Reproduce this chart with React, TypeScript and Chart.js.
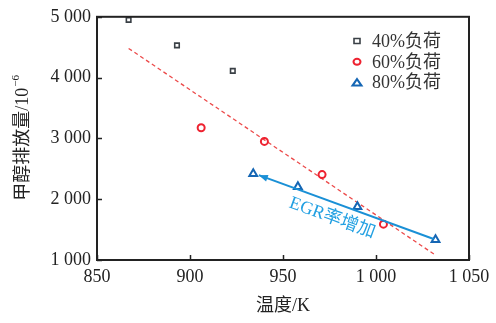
import React, { useEffect, useRef } from "react";
import { Chart, registerables } from "chart.js";
Chart.register(...registerables);

const load40T = [867, 893, 923];
const load40V = [4950, 4530, 4110];
const load60T = [906, 940, 971, 1004];
const load60V = [3175, 2950, 2405, 1590];
const load80T = [934, 958, 990, 1032];
const load80V = [2420, 2205, 1875, 1335];
const fitT = [867, 1032];
const fitV = [4480, 1080];
const arrowT = [1031, 937];
const arrowV = [1345, 2395];
const seriesNames = ["40%负荷", "60%负荷", "80%负荷"];
const xTicks = [850, 900, 950, 1000, 1050];
const yTicks = [1000, 2000, 3000, 4000, 5000];
const xTitle = "温度/K";
const yTitleMain = "甲醇排放量/10";
const yTitleSup = "−6";
const arrowLabel = "EGR率增加";

const FONT = "'Liberation Serif', 'Noto Sans CJK SC', serif";
const fmt = (v: number) => {
  const s = String(v);
  return s.length > 3 ? s.slice(0, s.length - 3) + " " + s.slice(-3) : s;
};

const pts = (xs: number[], ys: number[]) => xs.map((x, i) => ({ x, y: ys[i] }));

const C40 = "#3a4046";
const C60 = "#ee2230";
const C80 = "#1566b4";
const CARROW = "#1a90d6";

export default function App() {
  const ref = useRef<HTMLCanvasElement>(null);
  useEffect(() => {
    document.body.style.margin = "0";
    const deco = {
      id: "deco",
      beforeDatasetsDraw(chart: any) {
        const { ctx, chartArea: a, scales } = chart;
        const xs = scales.x, ys = scales.y;
        ctx.save();
        ctx.strokeStyle = "#222";
        ctx.lineWidth = 1.5;
        yTicks.forEach((v) => {
          const y = Math.round(ys.getPixelForValue(v)) + 0.5;
          ctx.beginPath();
          ctx.moveTo(a.left, y);
          ctx.lineTo(a.left + 5, y);
          ctx.stroke();
        });
        xTicks.forEach((v) => {
          const x = Math.round(xs.getPixelForValue(v)) + 0.5;
          ctx.beginPath();
          ctx.moveTo(x, a.bottom);
          ctx.lineTo(x, a.bottom - 5);
          ctx.stroke();
        });
        ctx.restore();
      },
      afterDatasetsDraw(chart: any) {
        const { ctx, chartArea: a, scales } = chart;
        const xs = scales.x, ys = scales.y;
        ctx.save();
        // arrow
        const x1 = xs.getPixelForValue(arrowT[0]), y1 = ys.getPixelForValue(arrowV[0]);
        const x2 = xs.getPixelForValue(arrowT[1]), y2 = ys.getPixelForValue(arrowV[1]);
        ctx.strokeStyle = CARROW;
        ctx.fillStyle = CARROW;
        ctx.lineWidth = 2;
        ctx.beginPath();
        ctx.moveTo(x1, y1);
        ctx.lineTo(x2, y2);
        ctx.stroke();
        const ang = Math.atan2(y2 - y1, x2 - x1);
        const L = 9, W = 3.5;
        ctx.beginPath();
        ctx.moveTo(x2, y2);
        ctx.lineTo(x2 - L * Math.cos(ang) + W * Math.sin(ang), y2 - L * Math.sin(ang) - W * Math.cos(ang));
        ctx.lineTo(x2 - L * Math.cos(ang) - W * Math.sin(ang), y2 - L * Math.sin(ang) + W * Math.cos(ang));
        ctx.closePath();
        ctx.fill();
        // label
        ctx.save();
        const lx = (x1 + x2) / 2 - 14, ly = (y1 + y2) / 2 + 11;
        ctx.translate(lx, ly);
        ctx.rotate(Math.atan2(y1 - y2, x1 - x2));
        ctx.font = "18px " + FONT;
        ctx.fillStyle = "#22a0e2";
        ctx.textAlign = "center";
        ctx.textBaseline = "middle";
        ctx.fillText(arrowLabel, 0, 0);
        ctx.restore();
        // frame
        ctx.strokeStyle = "#222";
        ctx.lineWidth = 2;
        ctx.strokeRect(a.left, a.top, a.right - a.left, a.bottom - a.top);
        // legend
        const colors = [C40, C60, C80];
        const shapes = ["rect", "circle", "triangle"];
        ctx.font = "18px " + FONT;
        ctx.textBaseline = "middle";
        ctx.textAlign = "left";
        seriesNames.forEach((n, i) => {
          const cy = 41 + i * 20.8;
          const cx = 357;
          ctx.strokeStyle = colors[i];
          ctx.lineWidth = shapes[i] === "rect" ? 1.6 : 2;
          ctx.beginPath();
          if (shapes[i] === "rect") ctx.rect(cx - 3, cy - 2.5, 6, 5);
          else if (shapes[i] === "circle") ctx.ellipse(cx, cy, 3.5, 3, 0, 0, Math.PI * 2);
          else {
            ctx.moveTo(cx, cy - 3.5);
            ctx.lineTo(cx + 4.5, cy + 3);
            ctx.lineTo(cx - 4.5, cy + 3);
            ctx.closePath();
          }
          ctx.stroke();
          ctx.fillStyle = "#333";
          ctx.fillText(n, 372, cy + 1);
        });
        // axis titles
        ctx.fillStyle = "#222";
        ctx.textAlign = "center";
        ctx.font = "18px " + FONT;
        ctx.fillText(xTitle, (a.left + a.right) / 2, 306);
        ctx.save();
        ctx.translate(23, (a.top + a.bottom) / 2);
        ctx.rotate(-Math.PI / 2);
        const wMain = ctx.measureText(yTitleMain).width;
        ctx.font = "11px " + FONT;
        const wSup = ctx.measureText(yTitleSup).width;
        const start = -(wMain + wSup) / 2;
        ctx.textAlign = "left";
        ctx.font = "18px " + FONT;
        ctx.fillText(yTitleMain, start, 0);
        ctx.font = "11px " + FONT;
        ctx.fillText(yTitleSup, start + wMain + 1, -7);
        ctx.restore();
        ctx.restore();
      },
    };
    const chart = new Chart(ref.current as HTMLCanvasElement, {
      type: "scatter",
      data: {
        datasets: [
          {
            label: seriesNames[0],
            data: pts(load40T, load40V),
            pointStyle: "rect",
            pointRadius: 3.2,
            borderColor: C40,
            backgroundColor: "transparent",
            borderWidth: 1.6,
          },
          {
            label: seriesNames[1],
            data: pts(load60T, load60V),
            pointStyle: "circle",
            pointRadius: 3.5,
            borderColor: C60,
            backgroundColor: "transparent",
            borderWidth: 2,
          },
          {
            label: seriesNames[2],
            data: pts(load80T, load80V),
            pointStyle: "triangle",
            pointRadius: 4.5,
            borderColor: C80,
            backgroundColor: "transparent",
            borderWidth: 2,
          },
          {
            type: "line",
            label: "fit",
            data: pts(fitT, fitV),
            showLine: true,
            borderColor: "#ec4a4a",
            borderWidth: 1.3,
            borderDash: [4, 3],
            pointRadius: 0,
            fill: false,
          } as any,
        ],
      },
      options: {
        animation: false,
        responsive: false,
        maintainAspectRatio: false,
        layout: { padding: { top: 15, right: 27, left: 0, bottom: 0 } },
        plugins: { legend: { display: false }, tooltip: { enabled: false } },
        scales: {
          x: {
            type: "linear",
            min: 850,
            max: 1050,
            afterBuildTicks: (s: any) => {
              s.ticks = xTicks.map((v) => ({ value: v }));
            },
            afterFit: (s: any) => {
              s.height = 63;
            },
            grid: { display: false, drawTicks: false, tickLength: 0 },
            border: { display: false },
            ticks: {
              padding: 6,
              color: "#222",
              font: { family: FONT, size: 18 },
              maxRotation: 0,
              callback: (v: any) => fmt(Number(v)),
            },
          },
          y: {
            min: 1000,
            max: 5000,
            afterBuildTicks: (s: any) => {
              s.ticks = yTicks.map((v) => ({ value: v }));
            },
            afterFit: (s: any) => {
              s.width = 97;
            },
            grid: { display: false, drawTicks: false, tickLength: 0 },
            border: { display: false },
            ticks: {
              padding: 6,
              color: "#222",
              font: { family: FONT, size: 18 },
              callback: (v: any) => fmt(Number(v)),
            },
          },
        },
      },
      plugins: [deco],
    });
    return () => chart.destroy();
  }, []);
  return <canvas ref={ref} width={496} height={323} style={{ display: "block" }} />;
}
